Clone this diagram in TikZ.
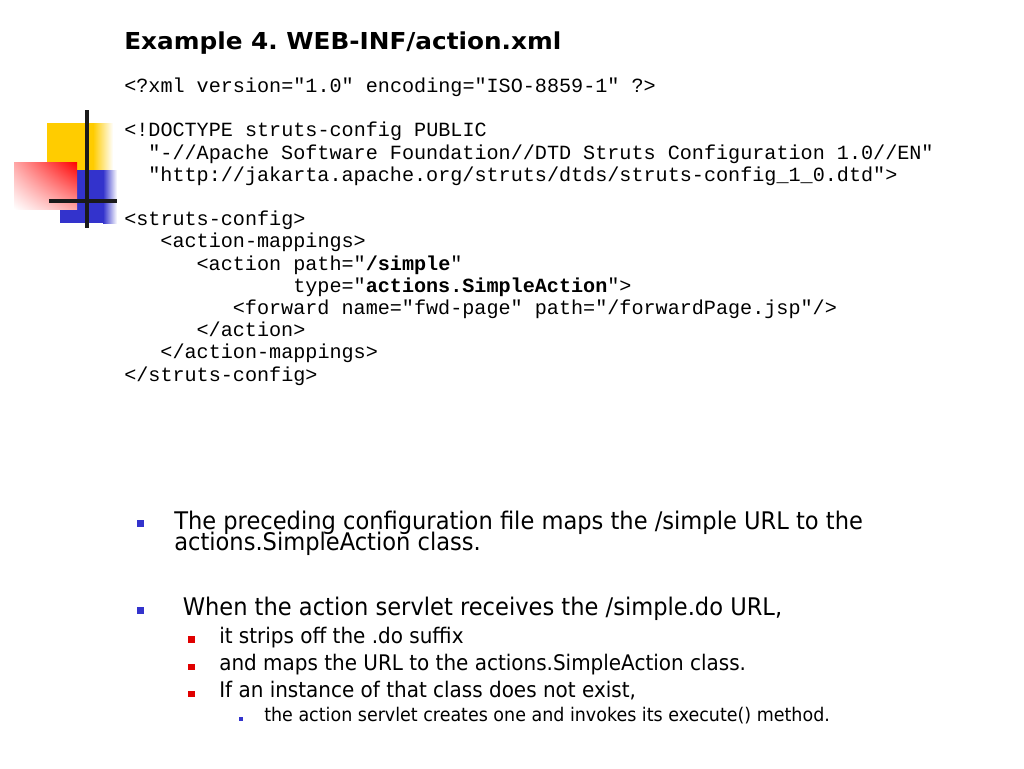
\documentclass[tikz,border=0pt]{standalone}
\usepackage{fontspec}
\usepackage{xcolor}
\usetikzlibrary{shadings}
\setmainfont{DejaVu Sans}
\setmonofont{Liberation Mono}
\newfontfamily\slidefont{DejaVu Sans}[FakeStretch=0.93]
\newfontfamily\titlefont{DejaVu Sans}[FakeStretch=1.06]
\definecolor{logoyellow}{RGB}{255,204,0}
\definecolor{logoblue}{RGB}{51,51,204}
\definecolor{logored}{RGB}{255,0,0}
\definecolor{logoline}{RGB}{26,26,26}
\definecolor{bulletblue}{RGB}{51,51,204}
\definecolor{bulletred}{RGB}{224,0,0}

\begin{document}
\begin{tikzpicture}[x=0.75pt,y=0.75pt,yscale=-1,xscale=1,
  codeline/.style={anchor=base west,inner sep=0pt,font=\fontsize{15.1}{18}\selectfont\ttfamily},
  titletext/.style={anchor=base west,inner sep=0pt,font=\fontsize{17.5}{20}\selectfont\titlefont\bfseries},
  mainitem/.style={anchor=base west,inner sep=0pt,align=left,font={\fontsize{18.2}{15.6}\selectfont\slidefont\lineskiplimit -20pt\relax}},
  subitem/.style={anchor=base west,inner sep=0pt,font=\fontsize{16.1}{18}\selectfont\slidefont},
  subsubitem/.style={anchor=base west,inner sep=0pt,font=\fontsize{14.1}{16}\selectfont\slidefont}]
\useasboundingbox (0,0) rectangle (1024,768);

%Shape: Rectangle (logo, yellow)
\fill [logoyellow] (47,123) -- (93,123) -- (93,170) -- (47,170) -- cycle ;
\shade [left color=logoyellow, right color=white] (93,123) -- (113,123) -- (113,170) -- (93,170) -- cycle ;
%Shape: Rectangle (logo, blue)
\fill [logoblue] (60,170) -- (103,170) -- (103,223) -- (60,223) -- cycle ;
\shade [left color=logoblue, right color=white] (103,170) -- (117,170) -- (117,223) -- (103,223) -- cycle ;
%Shape: Rectangle (logo, red)
\shade [upper right=logored, upper left=logored!35, lower right=logored!35, lower left=white] (14,162) -- (77,162) -- (77,209) -- (14,209) -- cycle ;
%Straight Lines (logo)
\draw [logoline, line width=3pt] (87,110) -- (87,228) ;
\draw [logoline, line width=3pt] (49,201) -- (117,201) ;

% Text Node
\draw (124,49.3) node [titletext] (title) {Example 4.\ WEB-INF/action.xml};

% Text Node
\draw (124,92.5) node [codeline] (xmldecl) {<?xml version="1.0" encoding="ISO-8859-1" ?>};
% Text Node
\draw (124,136.9) node [codeline] (doctype) {<!DOCTYPE struts-config PUBLIC};
% Text Node
\draw (148.1,159.1) node [codeline] (publicid) {"-//Apache Software Foundation//DTD Struts Configuration 1.0//EN"};
% Text Node
\draw (148.1,181.3) node [codeline] (systemid) {"http://jakarta.apache.org/struts/dtds/struts-config\_1\_0.dtd">};
% Text Node
\draw (124,225.7) node [codeline] (cfgopen) {<struts-config>};
% Text Node
\draw (160.2,247.9) node [codeline] (mapopen) {<action-mappings>};
% Text Node
\draw (196.4,270.1) node [codeline] (actopen) {<action path="\textbf{/simple}"};
% Text Node
\draw (293,292.3) node [codeline] (acttype) {type="\textbf{actions.SimpleAction}">};
% Text Node
\draw (232.6,314.5) node [codeline] (forward) {<forward name="fwd-page" path="/forwardPage.jsp"/>};
% Text Node
\draw (196.4,336.7) node [codeline] (actclose) {</action>};
% Text Node
\draw (160.2,358.9) node [codeline] (mapclose) {</action-mappings>};
% Text Node
\draw (124,381.1) node [codeline] (cfgclose) {</struts-config>};

%Shape: Square (bullets)
\fill [bulletblue] (136.7,520) -- (144.3,520) -- (144.3,527) -- (136.7,527) -- cycle ;
\fill [bulletblue] (136.7,606.7) -- (144.3,606.7) -- (144.3,614) -- (136.7,614) -- cycle ;
\fill [bulletred] (188,636) -- (195,636) -- (195,642.5) -- (188,642.5) -- cycle ;
\fill [bulletred] (188,663.5) -- (195,663.5) -- (195,670) -- (188,670) -- cycle ;
\fill [bulletred] (188,690.5) -- (195,690.5) -- (195,697) -- (188,697) -- cycle ;
\fill [bulletblue] (238.5,716.5) -- (243,716.5) -- (243,721) -- (238.5,721) -- cycle ;

% Text Node
\draw (174,550.1) node [mainitem] (maps) {The preceding configuration file maps the /simple URL to the\\actions.SimpleAction class.};
% Text Node
\draw (182.5,615) node [mainitem] (receives) {When the action servlet receives the /simple.do URL,};
% Text Node
\draw (219,643.3) node [subitem] (strips) {it strips off the .do suffix};
\draw (219,670.5) node [subitem] (mapsurl) {and maps the URL to the actions.SimpleAction class.};
\draw (219,697.5) node [subitem] (noinst) {If an instance of that class does not exist,};
% Text Node
\draw (264,721.7) node [subsubitem] (creates) {the action servlet creates one and invokes its execute() method.};

\end{tikzpicture}
\end{document}
